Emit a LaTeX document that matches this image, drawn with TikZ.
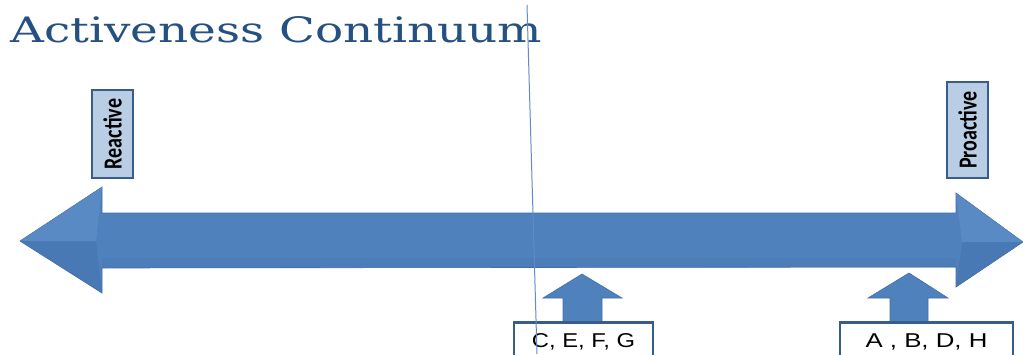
\documentclass[tikz,border=0pt]{standalone}
\usepackage{fontspec}
\usepackage{graphicx}
\setmainfont{DejaVu Serif}
\newfontfamily\labfont{Carlito}
\newfontfamily\boxfont{Liberation Sans}
\definecolor{titleblue}{RGB}{36,80,130}
\definecolor{arrowblue}{RGB}{79,129,189}
\definecolor{arrowedge}{RGB}{64,110,168}
\definecolor{lightface}{RGB}{110,156,210}
\definecolor{darkface}{RGB}{60,104,160}
\definecolor{labfill}{RGB}{185,205,229}
\definecolor{labedge}{RGB}{56,93,138}
\definecolor{guide}{RGB}{95,140,200}
\tikzset{
  bigarrow/.style={fill=arrowblue, draw=arrowedge, line width=0.6pt, line join=miter},
  uparrow/.style={fill=arrowblue, draw=arrowedge, line width=0.6pt},
  endlabel/.style={draw=labedge, line width=2pt, fill=labfill, inner sep=0pt,
    rotate=90, font=\labfont\bfseries\fontsize{20}{20}\selectfont},
  itembox/.style={draw=labedge, line width=2pt, fill=white, inner sep=0pt, anchor=north west,
    font=\boxfont\fontsize{20}{20}\selectfont},
}
\begin{document}
\begin{tikzpicture}[x=1pt,y=-1pt]
\useasboundingbox (0,0) rectangle (1023,354);
\fill[white] (0,0) rectangle (1023,354);
% title
\node[anchor=base west, inner sep=0pt, text=titleblue] (title) at (10,42)
  {\resizebox{532pt}{26pt}{Activeness Continuum}};
% big double arrow
\path[bigarrow] (20,241) -- (102,187) -- (102,213) -- (956,213) -- (956,193)
  -- (1023,242) -- (956,287) -- (956,267) -- (102,268) -- (102,293) -- cycle;
% bevel facets on heads
\fill[lightface, opacity=0.35] (20,241) -- (102,187) -- (96,241) -- cycle;
\fill[darkface, opacity=0.3] (20,241) -- (102,293) -- (96,241) -- cycle;
\fill[lightface, opacity=0.35] (956,193) -- (1023,242) -- (962,242) -- cycle;
\fill[darkface, opacity=0.3] (956,287) -- (1023,242) -- (962,242) -- cycle;
\fill[darkface, opacity=0.15] (102,258) rectangle (956,267.5);
% end labels
\node[endlabel, minimum width=88pt, minimum height=41pt] (reactive) at (112.5,134)
  {\scalebox{1}[1.3]{Reactive}};
\node[endlabel, minimum width=96pt, minimum height=41pt] (proactive) at (967.5,130)
  {\scalebox{1}[1.3]{Proactive}};
% item boxes
\node[itembox, minimum width=139pt, minimum height=37pt] (cefg) at (513,322)
  {\scalebox{1.19}[1]{C, E, F, G}};
\node[itembox, minimum width=173pt, minimum height=37pt] (abdh) at (839,322)
  {\scalebox{1.29}[1]{A , B, D, H}};
% up arrows
\path[uparrow] (563,322) -- (563,298) -- (543,298) -- (582,274) -- (622,298)
  -- (602,298) -- (602,322) -- cycle;
\path[uparrow] (890,322) -- (890,298) -- (868,298) -- (909,273) -- (948,298)
  -- (928,298) -- (928,322) -- cycle;
% redraw box tops over arrow bases
\draw[labedge, line width=2pt] (cefg.north west) -- (cefg.north east);
\draw[labedge, line width=2pt] (abdh.north west) -- (abdh.north east);
% thin guide line
\coordinate (gtop) at (527,5);
\coordinate (gbot) at (537,354);
\draw[guide, line width=1pt] (gtop) -- (gbot);
\end{tikzpicture}
\end{document}
